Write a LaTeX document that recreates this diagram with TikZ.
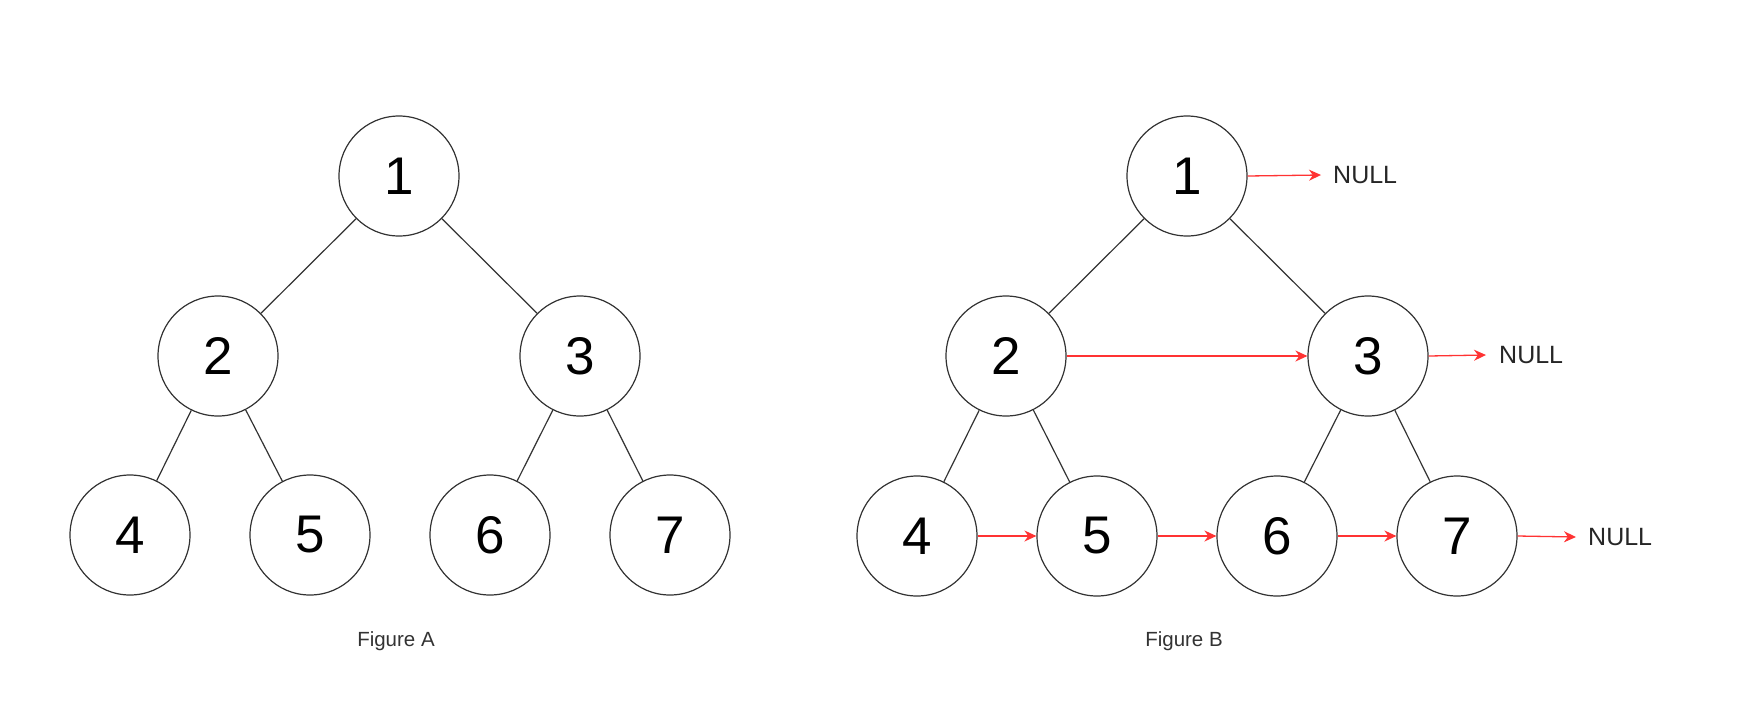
\documentclass[tikz,border=0pt]{standalone}
\usepackage{fontspec}
\setmainfont{Liberation Sans}
\usetikzlibrary{arrows.meta}
\definecolor{lin}{HTML}{333333}
\definecolor{red1}{HTML}{FF3333}
\begin{document}
\begin{tikzpicture}[x=1pt,y=-1pt,
  tn/.style={circle,draw=lin,line width=1.2pt,minimum size=120pt,inner sep=0pt,font=\fontsize{53}{53}\selectfont},
  edge/.style={draw=lin,line width=1.2pt},
  nxt/.style={draw=red1,line width=1.3pt,-{Stealth[length=12pt,width=11pt]}},
  nl/.style={anchor=west,inner sep=0pt,font=\fontsize{25}{25}\selectfont,text=black!85},
  figcap/.style={inner sep=0pt,font=\fontsize{20.5}{20.5}\selectfont,text=black!80}]
\fill[white] (0,0) rectangle (1755,710);
\useasboundingbox (0,0) rectangle (1755,710);
% Figure A
\node[tn] (a1) at (399,176) {1};
\node[tn] (a2) at (218,356) {2};
\node[tn] (a3) at (580,356) {3};
\node[tn] (a4) at (130,535) {4};
\node[tn] (a5) at (310,535) {5};
\node[tn] (a6) at (490,535) {6};
\node[tn] (a7) at (670,535) {7};
\draw[edge] (a1) -- (a2);
\draw[edge] (a1) -- (a3);
\draw[edge] (a2) -- (a4);
\draw[edge] (a2) -- (a5);
\draw[edge] (a3) -- (a6);
\draw[edge] (a3) -- (a7);
\node[figcap] (capa) at (396,641) {Figure A};
% Figure B
\node[tn] (b1) at (1187,176) {1};
\node[tn] (b2) at (1006,356) {2};
\node[tn] (b3) at (1368,356) {3};
\node[tn] (b4) at (917,536) {4};
\node[tn] (b5) at (1097,536) {5};
\node[tn] (b6) at (1277,536) {6};
\node[tn] (b7) at (1457,536) {7};
\draw[edge] (b1) -- (b2);
\draw[edge] (b1) -- (b3);
\draw[edge] (b2) -- (b4);
\draw[edge] (b2) -- (b5);
\draw[edge] (b3) -- (b6);
\draw[edge] (b3) -- (b7);
\node[nl] (n1) at (1333,175) {NULL};
\node[nl] (n2) at (1499,355) {NULL};
\node[nl] (n3) at (1588,537) {NULL};
\draw[nxt] (b1.east) -- ([xshift=-12pt]n1.west);
\draw[nxt] (b2.east) -- (b3.west);
\draw[nxt] (b3.east) -- ([xshift=-13pt]n2.west);
\draw[nxt] (b4.east) -- (b5.west);
\draw[nxt] (b5.east) -- (b6.west);
\draw[nxt] (b6.east) -- (b7.west);
\draw[nxt] (b7.east) -- ([xshift=-12pt]n3.west);
\node[figcap] (capb) at (1184,641) {Figure B};
\end{tikzpicture}
\end{document}
